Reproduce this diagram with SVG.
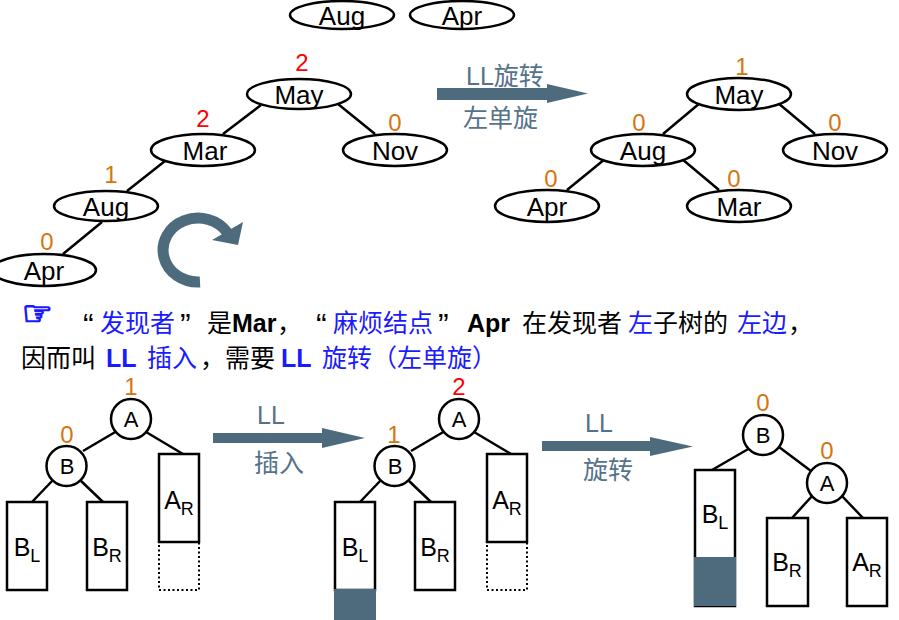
<svg xmlns="http://www.w3.org/2000/svg" width="899" height="620" viewBox="0 0 899 620">
<style>
.nd{fill:#fff;stroke:#000;stroke-width:2.5}
.nt{font-family:"Liberation Sans","Noto Sans CJK SC",sans-serif;font-size:26px;fill:#000;text-anchor:middle}
.bf{font-family:"Liberation Sans",sans-serif;font-size:24px;text-anchor:middle}
.o{fill:#d6750f}
.r{fill:#ff0000}
.ed{stroke:#000;stroke-width:2.5;fill:none}
.bx{fill:#fff;stroke:#000;stroke-width:2.5}
.dt{fill:none;stroke:#000;stroke-width:2;stroke-dasharray:2 2.5}
.fl{fill:#4e6b7e}
.ct{font-family:"Liberation Sans",sans-serif;font-size:22px;text-anchor:middle;fill:#000}
.lb{font-family:"Liberation Sans",sans-serif;font-size:25px;text-anchor:middle;fill:#000}
.at{font-family:"Liberation Sans","Noto Sans CJK SC",sans-serif;font-size:25px;fill:#56728a}
.tx{font-family:"Liberation Sans","Noto Sans CJK SC",sans-serif;font-size:25px;fill:#000}
.q{font-size:32px}
.bl{fill:#1a1aff}
.b{font-weight:bold}
</style>

<!-- top loose nodes -->
<g id="top-aug"><ellipse class="nd" cx="342" cy="15" rx="52" ry="14"/><text class="nt" x="342" y="25">Aug</text></g>
<g id="top-apr"><ellipse class="nd" cx="462" cy="15" rx="52" ry="14"/><text class="nt" x="462" y="25">Apr</text></g>

<!-- connectors -->
<g id="connectors">
  <line class="ed" x1="261" y1="105" x2="223" y2="134"/>
  <line class="ed" x1="338" y1="104" x2="375" y2="134"/>
  <line class="ed" x1="165" y1="161" x2="127" y2="191"/>
  <line class="ed" x1="102" y1="222" x2="63" y2="254"/>
  <line class="ed" x1="700" y1="103" x2="663" y2="134"/>
  <line class="ed" x1="778" y1="103" x2="815" y2="134"/>
  <line class="ed" x1="605" y1="159" x2="567" y2="190"/>
  <line class="ed" x1="682" y1="159" x2="719" y2="190"/>
  <line class="ed" x1="117" y1="431" x2="83" y2="451"/>
  <line class="ed" x1="146" y1="432" x2="183" y2="454"/>
  <line class="ed" x1="53" y1="480" x2="32" y2="502"/>
  <line class="ed" x1="80" y1="480" x2="103" y2="502"/>
  <line class="ed" x1="445" y1="431" x2="411" y2="451"/>
  <line class="ed" x1="474" y1="432" x2="511" y2="454"/>
  <line class="ed" x1="381" y1="480" x2="360" y2="502"/>
  <line class="ed" x1="408" y1="480" x2="431" y2="502"/>
  <line class="ed" x1="750" y1="448" x2="712" y2="470"/>
  <line class="ed" x1="779" y1="447" x2="811" y2="471"/>
  <line class="ed" x1="813" y1="495" x2="792" y2="518"/>
  <line class="ed" x1="841" y1="495" x2="863" y2="518"/>
</g>

<!-- left tree -->
<g id="l-may"><ellipse class="nd" cx="299" cy="94" rx="52" ry="15"/><text class="nt" x="299" y="104">May</text><text class="bf r" x="302" y="71">2</text></g>
<g id="l-mar"><ellipse class="nd" cx="203" cy="150" rx="52" ry="16"/><text class="nt" x="205" y="160">Mar</text><text class="bf r" x="203" y="127">2</text></g>
<g id="l-nov"><ellipse class="nd" cx="395" cy="150" rx="52" ry="16"/><text class="nt" x="395" y="160">Nov</text><text class="bf o" x="395" y="131">0</text></g>
<g id="l-aug"><ellipse class="nd" cx="106" cy="206" rx="52" ry="15"/><text class="nt" x="106" y="216">Aug</text><text class="bf o" x="111" y="183">1</text></g>
<g id="l-apr"><ellipse class="nd" cx="44" cy="270" rx="52" ry="16"/><text class="nt" x="44" y="280">Apr</text><text class="bf o" x="47" y="250">0</text></g>

<!-- curved rotation arrow -->
<g id="rot-arrow">
  <path d="M200 282 A35 32 0 1 1 227.4 232.6" fill="none" stroke="#4e6b7e" stroke-width="11"/>
  <polygon class="fl" points="212,240 243,222 238,245"/>
</g>

<!-- top arrow -->
<g id="arrow-top">
  <polygon class="fl" points="437,88 547,88 547,84 588,93.5 547,103 547,100 437,100"/>
  <text class="at" x="466" y="85">LL旋转</text>
  <text class="at" x="463" y="127">左单旋</text>
</g>

<!-- right tree -->
<g id="r-may"><ellipse class="nd" cx="739" cy="94" rx="52" ry="16"/><text class="nt" x="739" y="104">May</text><text class="bf o" x="742" y="75">1</text></g>
<g id="r-aug"><ellipse class="nd" cx="643" cy="150" rx="52" ry="16"/><text class="nt" x="643" y="160">Aug</text><text class="bf o" x="639" y="131">0</text></g>
<g id="r-nov"><ellipse class="nd" cx="835" cy="150" rx="52" ry="16"/><text class="nt" x="835" y="160">Nov</text><text class="bf o" x="835" y="131">0</text></g>
<g id="r-apr"><ellipse class="nd" cx="547" cy="206" rx="52" ry="16"/><text class="nt" x="547" y="216">Apr</text><text class="bf o" x="551" y="187">0</text></g>
<g id="r-mar"><ellipse class="nd" cx="739" cy="206" rx="52" ry="16"/><text class="nt" x="739" y="216">Mar</text><text class="bf o" x="734" y="187">0</text></g>

<!-- explanation text -->
<g id="caption">
  <text x="22" y="325" font-family="DejaVu Sans,sans-serif" font-size="34" fill="#1a1aff" stroke="#1a1aff" stroke-width="1.6">☞</text>
  <text class="tx" y="332"><tspan x="83" dy="4" class="q">“</tspan><tspan x="100" dy="-4" class="bl">发现者</tspan><tspan x="180" dy="4" class="q">”</tspan><tspan x="207" dy="-4">是</tspan><tspan x="232" class="b">Mar</tspan><tspan x="277">，</tspan><tspan x="316" dy="4" class="q">“</tspan><tspan x="333" dy="-4" class="bl">麻烦结点</tspan><tspan x="438" dy="4" class="q">”</tspan><tspan x="467" dy="-4" class="b">Apr</tspan><tspan x="522">在发现者</tspan><tspan x="628" class="bl">左</tspan><tspan x="653">子树的</tspan><tspan x="737" class="bl">左边</tspan><tspan x="788">，</tspan></text>
  <text class="tx" y="367"><tspan x="21">因而叫</tspan><tspan x="106" class="bl b">LL</tspan><tspan x="147" class="bl">插入</tspan><tspan x="200">，需要</tspan><tspan x="281" class="bl b">LL</tspan><tspan x="322" class="bl">旋转（左单旋）</tspan></text>
</g>

<!-- bottom: before insertion -->
<g id="s1-A"><circle class="nd" cx="131" cy="419" r="20"/><text class="ct" x="131" y="427">A</text><text class="bf o" x="131" y="395">1</text></g>
<g id="s1-B"><circle class="nd" cx="66.5" cy="466" r="20"/><text class="ct" x="67" y="474">B</text><text class="bf o" x="67" y="443">0</text></g>
<g id="s1-BL"><rect class="bx" x="7" y="502" width="40" height="88"/><text class="lb" x="27" y="556">B<tspan font-size="18" dy="6">L</tspan></text></g>
<g id="s1-BR"><rect class="bx" x="87" y="502" width="40" height="88"/><text class="lb" x="107" y="556">B<tspan font-size="18" dy="6">R</tspan></text></g>
<g id="s1-AR"><rect class="dt" x="159" y="542" width="40" height="48"/><rect class="bx" x="159" y="454" width="40" height="88"/><text class="lb" x="179" y="509">A<tspan font-size="18" dy="6">R</tspan></text></g>

<g id="arrow-ins">
  <polygon class="fl" points="213,433 322,433 322,428 365,438 322,448 322,443 213,443"/>
  <text class="at" x="271" y="424" text-anchor="middle">LL</text>
  <text class="at" x="279" y="472" text-anchor="middle">插入</text>
</g>

<!-- bottom: after insertion -->
<g id="s2-A"><circle class="nd" cx="459" cy="419" r="20"/><text class="ct" x="459" y="427">A</text><text class="bf r" x="459" y="395">2</text></g>
<g id="s2-B"><circle class="nd" cx="394.5" cy="466" r="20"/><text class="ct" x="395" y="474">B</text><text class="bf o" x="394" y="443">1</text></g>
<g id="s2-BL"><rect class="bx" x="335" y="502" width="40" height="88"/><rect class="fl" x="334" y="589" width="42" height="31"/><text class="lb" x="355" y="556">B<tspan font-size="18" dy="6">L</tspan></text></g>
<g id="s2-BR"><rect class="bx" x="415" y="502" width="40" height="88"/><text class="lb" x="435" y="556">B<tspan font-size="18" dy="6">R</tspan></text></g>
<g id="s2-AR"><rect class="dt" x="487" y="542" width="40" height="48"/><rect class="bx" x="487" y="454" width="40" height="88"/><text class="lb" x="507" y="509">A<tspan font-size="18" dy="6">R</tspan></text></g>

<g id="arrow-rot">
  <polygon class="fl" points="542,441 650,441 650,437 693,446.5 650,456 650,451 542,451"/>
  <text class="at" x="599" y="432" text-anchor="middle">LL</text>
  <text class="at" x="608" y="479" text-anchor="middle">旋转</text>
</g>

<!-- bottom: after rotation -->
<g id="s3-B"><circle class="nd" cx="763" cy="435" r="20"/><text class="ct" x="763" y="443">B</text><text class="bf o" x="763" y="411">0</text></g>
<g id="s3-A"><circle class="nd" cx="827" cy="483" r="20"/><text class="ct" x="827" y="491">A</text><text class="bf o" x="827" y="459">0</text></g>
<g id="s3-BL"><rect class="bx" x="695" y="470" width="40" height="136"/><rect class="fl" x="694" y="557" width="42" height="49"/><text class="lb" x="715" y="523">B<tspan font-size="18" dy="6">L</tspan></text></g>
<g id="s3-BR"><rect class="bx" x="767" y="518" width="41" height="88"/><text class="lb" x="787" y="571">B<tspan font-size="18" dy="6">R</tspan></text></g>
<g id="s3-AR"><rect class="bx" x="847" y="518" width="40" height="88"/><text class="lb" x="867" y="571">A<tspan font-size="18" dy="6">R</tspan></text></g>
</svg>
